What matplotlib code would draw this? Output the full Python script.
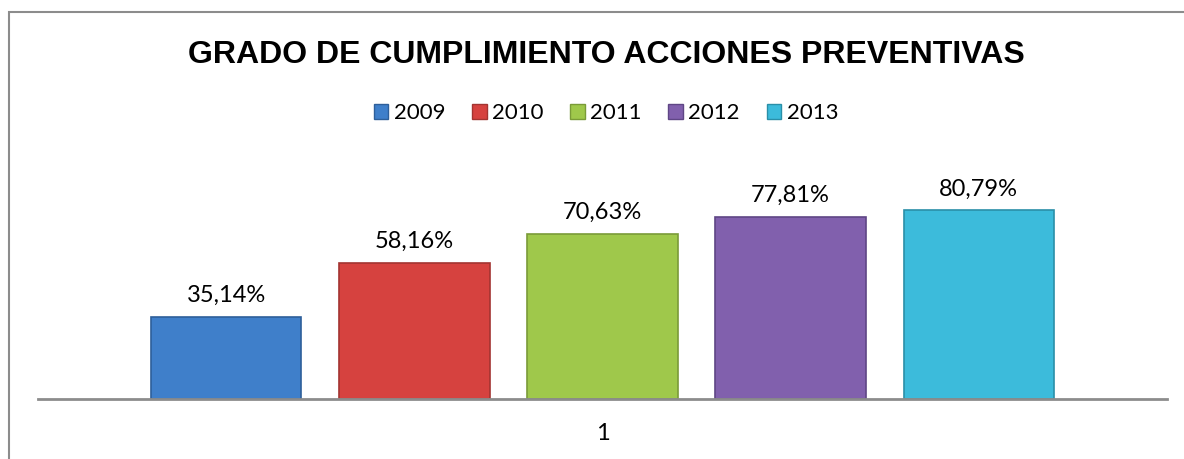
import matplotlib
matplotlib.use("Agg")
import matplotlib.pyplot as plt
from matplotlib.patches import Rectangle, Patch

# datos
years = ["2009", "2010", "2011", "2012", "2013"]
values = [35.14, 58.16, 70.63, 77.81, 80.79]
colors = ["#3F7FCA", "#D6423F", "#9FC84B", "#8160AD", "#3CBBDB"]
edges = ["#2E5F9A", "#A33431", "#7A9B38", "#5F4685", "#2A8FA8"]
title = "GRADO DE CUMPLIMIENTO ACCIONES PREVENTIVAS"

plt.rcParams["font.family"] = ["Lato", "DejaVu Sans"]

W, H = 1184, 459
fig = plt.figure(figsize=(W / 100, H / 100), dpi=100)

# marco del gráfico (cortado a la derecha y abajo)
fig.patches.append(Rectangle((9 / W, -0.05), 1.2, 1 - 12 / H + 0.05,
                             transform=fig.transFigure, fill=False,
                             edgecolor="#8C8C8C", linewidth=1.5))

ax = fig.add_axes([38 / W, (H - 399) / H, (1167 - 38) / W, (399 - 140) / H])
x = range(len(years))
bars = ax.bar(x, values, width=0.8, color=colors, edgecolor=edges, linewidth=1.2)
for xi, v in zip(x, values):
    ax.annotate(f"{v:.2f}%".replace(".", ","), (xi, v), xytext=(0, 8),
                textcoords="offset points", ha="center", va="bottom", fontsize=17)

ax.set_xlim(-1.0, 5.0)
ax.set_ylim(0, 111)
for s in ["top", "right", "left"]:
    ax.spines[s].set_visible(False)
ax.spines["bottom"].set_color("#8C8C8C")
ax.spines["bottom"].set_linewidth(2)
ax.set_yticks([])
ax.set_xticks([2])
ax.set_xticklabels(["1"], fontsize=17)
ax.tick_params(axis="x", length=0, pad=17)

cx = 606 / W
fig.text(cx, 1 - 55 / H, title, ha="center", va="center", fontsize=23,
         fontweight="bold", family="Liberation Sans")

handles = [Patch(facecolor=c, edgecolor=e) for c, e in zip(colors, edges)]
fig.legend(handles, years, loc="center", bbox_to_anchor=(cx, 1 - 113 / H), ncol=5,
           frameon=False, fontsize=16, handlelength=0.65, handleheight=0.65,
           handletextpad=0.25, columnspacing=1.2)

fig.savefig("out.png", dpi=100)
